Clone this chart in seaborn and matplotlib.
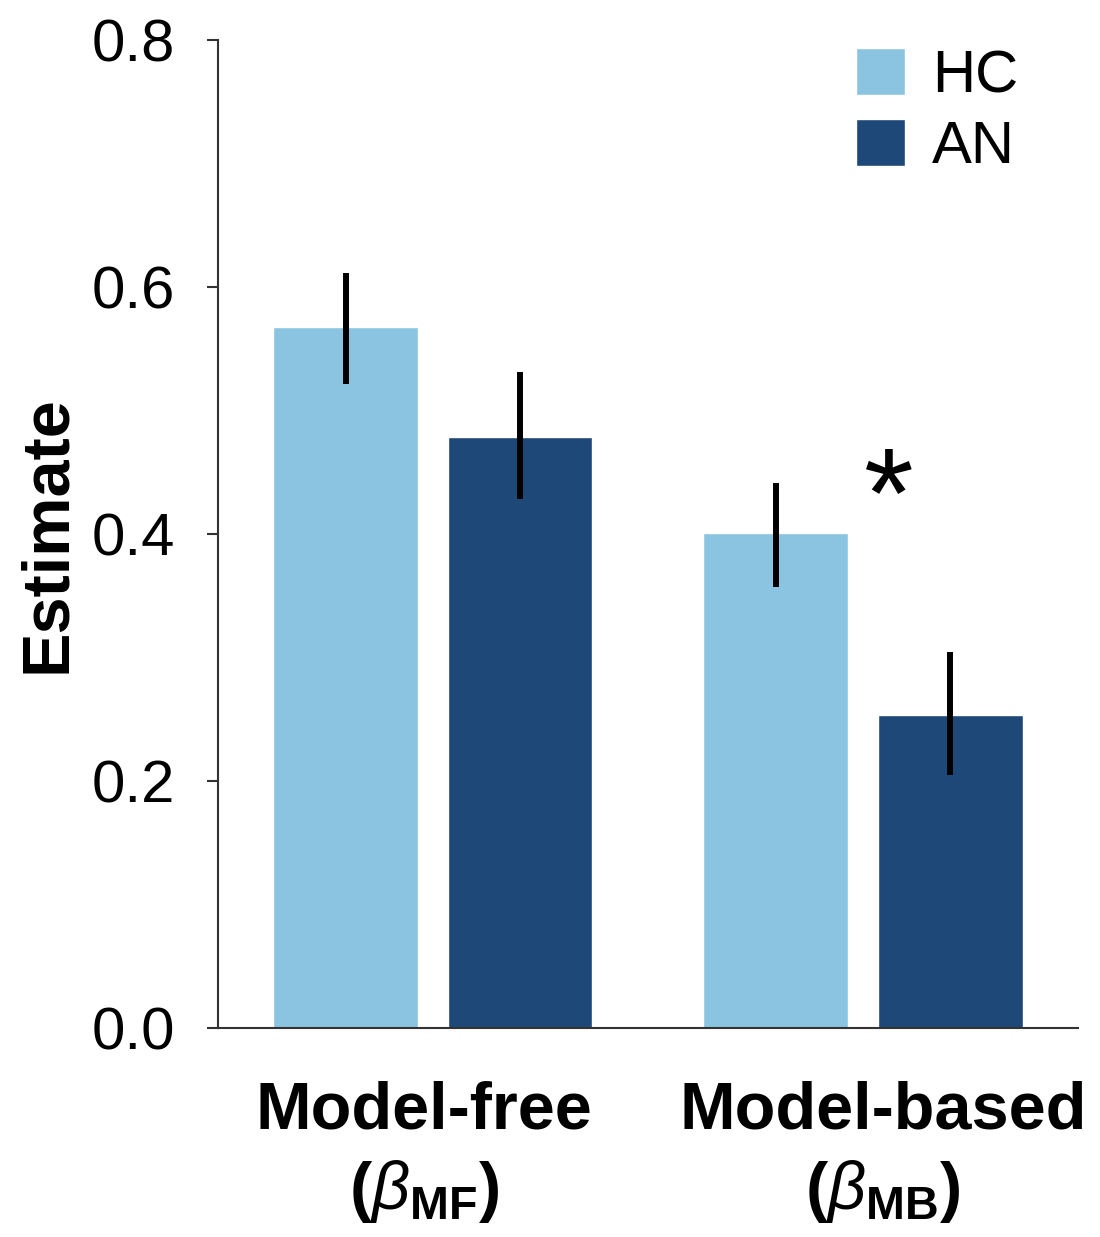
import seaborn as sns
import matplotlib.pyplot as plt
import pandas as pd

# values
conditions = ['Model-free', 'Model-based']
groups = ['HC', 'AN']
hc_means = [0.567, 0.401]
an_means = [0.478, 0.253]
hc_low = [0.521, 0.357]
hc_high = [0.611, 0.441]
an_low = [0.428, 0.205]
an_high = [0.531, 0.304]
tick_labels = ['Model-free\n' + r'($\mathit{\beta}_{\mathbf{MF}}$)',
               'Model-based\n' + r'($\mathit{\beta}_{\mathbf{MB}}$)']
colors = ['#8AC4E0', '#1D4877']

df = pd.DataFrame({
    'Condition': conditions * 2,
    'Group': [groups[0]] * 2 + [groups[1]] * 2,
    'Estimate': hc_means + an_means,
    'low': hc_low + an_low,
    'high': hc_high + an_high,
})

sns.set_style('white')
plt.rcParams['font.family'] = ['Liberation Sans', 'DejaVu Sans']
plt.rcParams['text.color'] = 'black'
plt.rcParams['axes.labelcolor'] = 'black'
plt.rcParams['xtick.color'] = 'black'
plt.rcParams['ytick.color'] = 'black'
plt.rcParams['mathtext.fontset'] = 'custom'
plt.rcParams['mathtext.rm'] = 'Liberation Sans'
plt.rcParams['mathtext.it'] = 'Liberation Sans:italic'
plt.rcParams['mathtext.bf'] = 'Liberation Sans:bold'

fig = plt.figure(figsize=(11, 12.37), dpi=100)
ax = fig.add_axes([0.198, 0.169, 0.782, 0.799])

sns.barplot(data=df, x='Condition', y='Estimate', hue='Group',
            palette=colors, width=0.812, gap=0.172, errorbar=None,
            saturation=1, ax=ax)

# error bars at the bar centres
for patches, g in zip(ax.containers, groups):
    sub = df[df['Group'] == g]
    for bar, (_, row) in zip(patches, sub.iterrows()):
        xc = bar.get_x() + bar.get_width() / 2
        ax.plot([xc, xc], [row['low'], row['high']], color='black',
                lw=4.3, solid_capstyle='butt')

ax.text(1.06, 0.424, '*', fontsize=92, ha='center', va='center')

ax.set_xlim(-0.5, 1.5)
ax.set_ylim(0, 0.8)
ax.set_yticks([0.0, 0.2, 0.4, 0.6, 0.8])
ax.set_yticklabels(['0.0', '0.2', '0.4', '0.6', '0.8'])
ax.set_xticks([-0.021, 1.047])
ax.set_xticklabels(tick_labels, fontsize=48, fontweight='bold',
                   linespacing=1.3)
ax.set_xlabel('')
ax.set_ylabel('Estimate', fontsize=48, fontweight='bold', labelpad=9)

ax.tick_params(axis='y', labelsize=43, length=8, width=1.5,
               color='#333333', pad=23, left=True)
ax.tick_params(axis='x', length=0, pad=38)
for s in ['top', 'right']:
    ax.spines[s].set_visible(False)
for s in ['left', 'bottom']:
    ax.spines[s].set_color('#333333')
    ax.spines[s].set_linewidth(1.5)

ax.legend(loc='upper right', bbox_to_anchor=(0.993, 1.046), frameon=False,
          fontsize=43, handlelength=0.83, handleheight=0.83,
          handletextpad=0.45, labelspacing=0.25)

plt.savefig('out.png', dpi=100)
